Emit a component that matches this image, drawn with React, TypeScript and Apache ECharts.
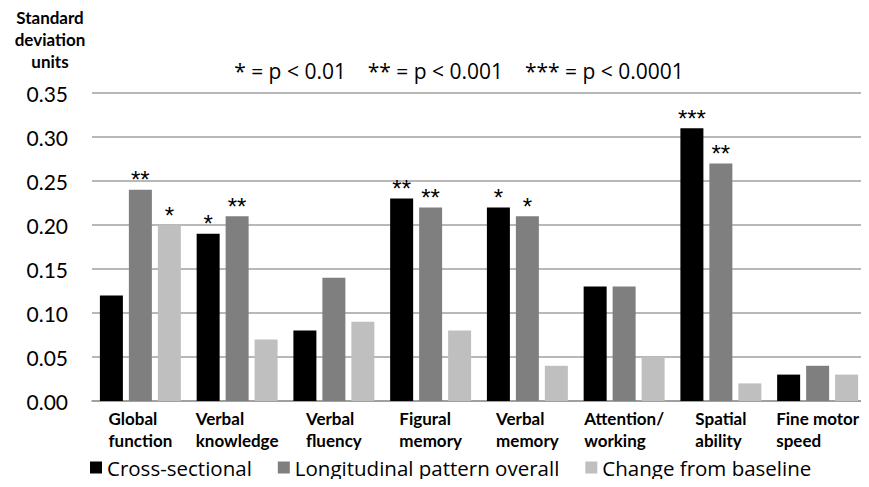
import React, { useEffect, useRef } from "react";
import * as echarts from "echarts";

const categories = [
  "Global\nfunction",
  "Verbal\nknowledge",
  "Verbal\nfluency",
  "Figural\nmemory",
  "Verbal\nmemory",
  "Attention/\nworking",
  "Spatial\nability",
  "Fine motor\nspeed",
];
const seriesNames = ["Cross-sectional", "Longitudinal pattern overall", "Change from baseline"];
const crossSectional = [0.12, 0.19, 0.08, 0.23, 0.22, 0.13, 0.31, 0.03];
const longitudinal = [0.24, 0.21, 0.14, 0.22, 0.21, 0.13, 0.27, 0.04];
const changeBaseline = [0.2, 0.07, 0.09, 0.08, 0.04, 0.05, 0.02, 0.03];
const starsCross = ["", "*", "", "**", "*", "", "***", ""];
const starsLong = ["**", "**", "", "**", "*", "", "**", ""];
const starsChange = ["*", "", "", "", "", "", "", ""];
const colors = ["#000000", "#7f7f7f", "#bfbfbf"];
const yTitle = "Standard\ndeviation\nunits";
const note = "* = p < 0.01    ** = p < 0.001    *** = p < 0.0001";

const FONT = "Lato, 'Open Sans', sans-serif";
const FONT2 = "'Open Sans', Lato, sans-serif";

export default function App() {
  const ref = useRef<HTMLDivElement>(null);
  useEffect(() => {
    if (!ref.current) return;
    const chart = echarts.init(ref.current, null, { renderer: "svg" });
    const mk = (name: string, data: number[], stars: string[], color: string) => ({
      name,
      type: "bar",
      data,
      barWidth: 23,
      barGap: "26%",
      itemStyle: { color },
      label: {
        show: true,
        position: "top",
        distance: 0,
        formatter: (p: any) => stars[p.dataIndex],
        fontFamily: "'Liberation Sans', Arial, sans-serif",
        fontSize: 24,
        color: "#000",
        offset: [0, 2],
      },
    });
    chart.setOption({
      animation: false,
      grid: { left: 92, right: 3, top: 93, bottom: 86, containLabel: false },
      legend: {
        bottom: 4,
        left: 85,
        itemWidth: 12,
        itemHeight: 12,
        itemGap: 26,
        icon: "rect",
        textStyle: { fontFamily: FONT2, fontSize: 20.5, color: "#000" },
        data: seriesNames,
      },
      graphic: [
        {
          type: "text",
          x: 459,
          y: 60,
          style: { text: note, fontFamily: FONT2, fontSize: 21, fill: "#000", align: "center" },
        },
        {
          type: "text",
          x: 50,
          y: 6,
          style: {
            text: yTitle,
            fontFamily: FONT,
            fontWeight: "bold",
            fontSize: 17,
            lineHeight: 22,
            align: "center",
            fill: "#000",
          },
        },
      ],
      xAxis: {
        type: "category",
        data: categories,
        axisTick: { show: false },
        axisLine: { lineStyle: { color: "#999", width: 1.5 } },
        axisLabel: {
          interval: 0,
          margin: 6,
          formatter: (v: string) =>
            v
              .split("\n")
              .map((l) => "{l|" + l + "}")
              .join("\n"),
          rich: {
            l: {
              align: "left",
              fontFamily: FONT,
              fontWeight: "bold",
              fontSize: 17,
              lineHeight: 22,
              color: "#000",
            },
          },
        },
      },
      yAxis: {
        type: "value",
        min: 0,
        max: 0.35,
        interval: 0.05,
        axisLine: { show: false },
        axisTick: { show: false },
        splitLine: { lineStyle: { color: "#a0a0a0", width: 1.5 } },
        axisLabel: {
          formatter: (v: number) => v.toFixed(2),
          fontFamily: FONT,
          fontSize: 21,
          color: "#000",
          margin: 24,
        },
      },
      series: [
        mk(seriesNames[0], crossSectional, starsCross, colors[0]),
        mk(seriesNames[1], longitudinal, starsLong, colors[1]),
        mk(seriesNames[2], changeBaseline, starsChange, colors[2]),
      ],
    });
    return () => chart.dispose();
  }, []);
  return <div ref={ref} style={{ width: 869, height: 487, margin: -8 }} />;
}
